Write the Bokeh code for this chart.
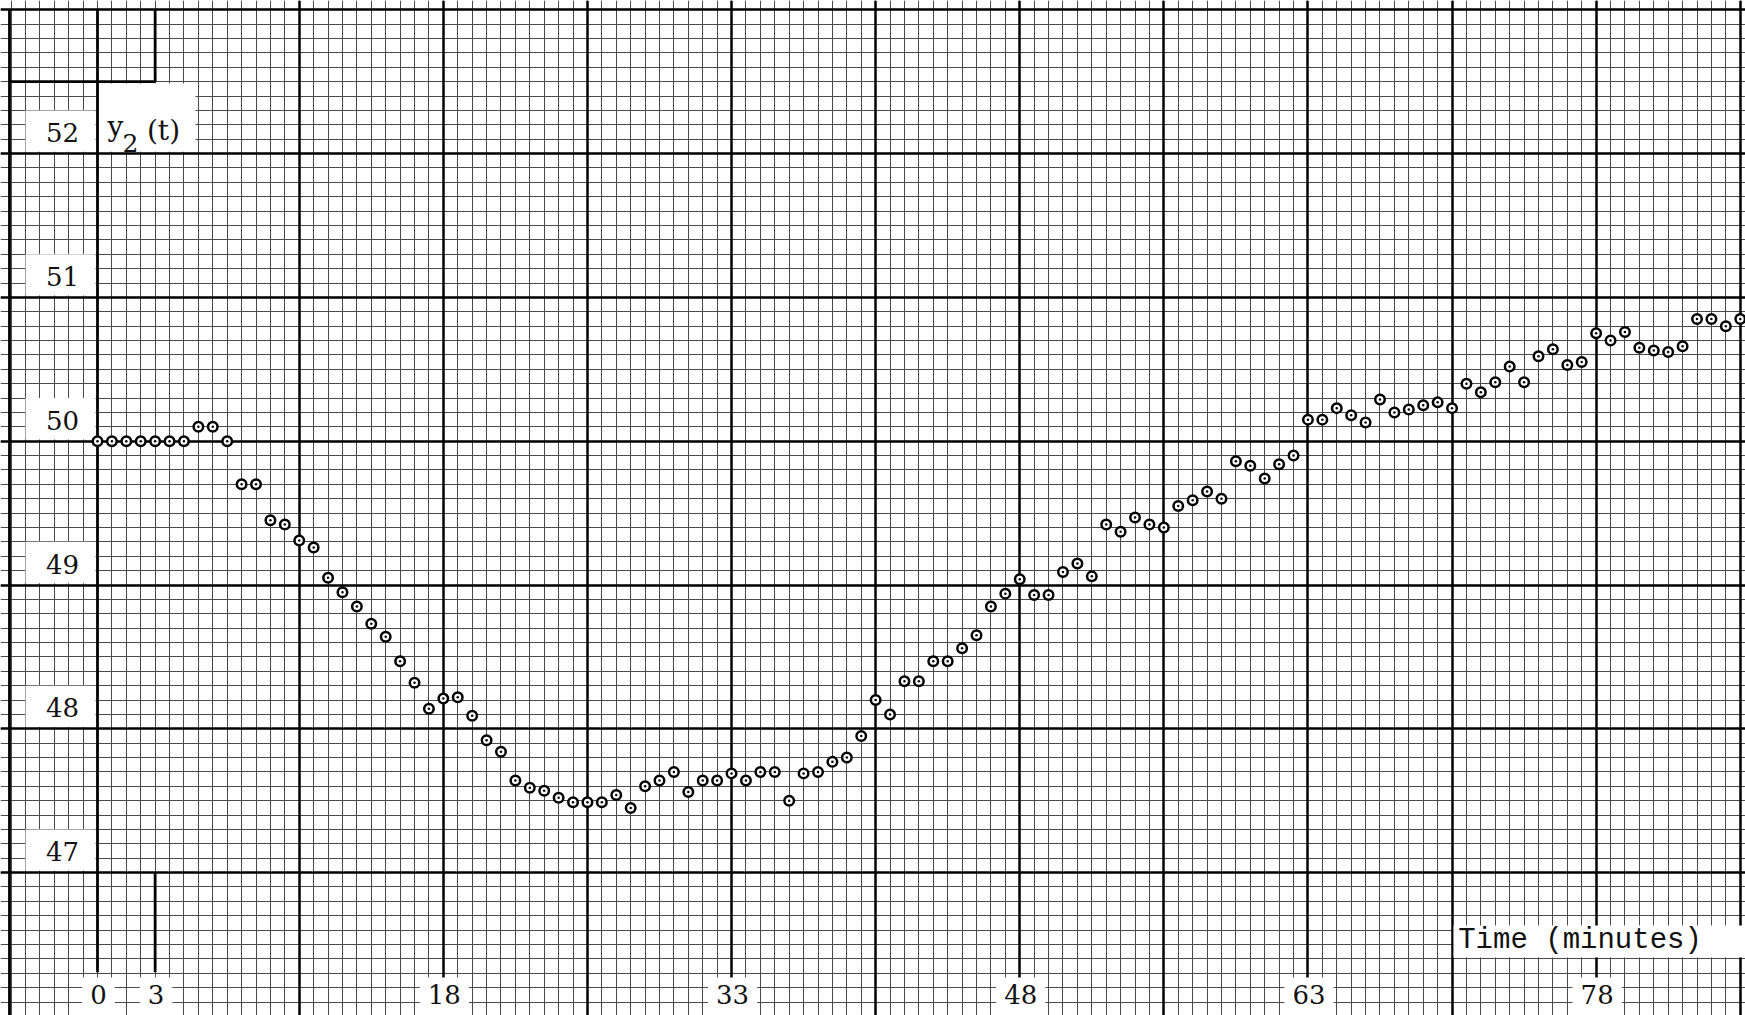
import numpy as np
from bokeh.plotting import figure
from bokeh.models import Range1d, Grid, FixedTicker
from bokeh.core.properties import value
from bokeh.embed import file_html
from bokeh.resources import INLINE

# ---------------- data ----------------
time_min = [
    0, 0.75, 1.5, 2.25, 3, 3.75, 4.5, 5.25, 6, 6.75,
    7.5, 8.25, 9, 9.75, 10.5, 11.25, 12, 12.75, 13.5, 14.25,
    15, 15.75, 16.5, 17.25, 18, 18.75, 19.5, 20.25, 21, 21.75,
    22.5, 23.25, 24, 24.75, 25.5, 26.25, 27, 27.75, 28.5, 29.25,
    30, 30.75, 31.5, 32.25, 33, 33.75, 34.5, 35.25, 36, 36.75,
    37.5, 38.25, 39, 39.75, 40.5, 41.25, 42, 42.75, 43.5, 44.25,
    45, 45.75, 46.5, 47.25, 48, 48.75, 49.5, 50.25, 51, 51.75,
    52.5, 53.25, 54, 54.75, 55.5, 56.25, 57, 57.75, 58.5, 59.25,
    60, 60.75, 61.5, 62.25, 63, 63.75, 64.5, 65.25, 66, 66.75,
    67.5, 68.25, 69, 69.75, 70.5, 71.25, 72, 72.75, 73.5, 74.25,
    75, 75.75, 76.5, 77.25, 78, 78.75, 79.5, 80.25, 81, 81.75,
    82.5, 83.25, 84, 84.75, 85.5,
]
y2_values = [
    50.00, 50.00, 50.00, 50.00, 50.00, 50.00, 50.00, 50.10, 50.10, 50.00,
    49.70, 49.70, 49.45, 49.42, 49.31, 49.26, 49.05, 48.95, 48.85, 48.73,
    48.64, 48.47, 48.32, 48.14, 48.21, 48.22, 48.09, 47.92, 47.84, 47.64,
    47.59, 47.57, 47.52, 47.49, 47.49, 47.49, 47.54, 47.45, 47.60, 47.64,
    47.70, 47.56, 47.64, 47.64, 47.69, 47.64, 47.70, 47.70, 47.50, 47.69,
    47.70, 47.77, 47.80, 47.95, 48.20, 48.10, 48.33, 48.33, 48.47, 48.47,
    48.56, 48.65, 48.85, 48.94, 49.04, 48.93, 48.93, 49.09, 49.15, 49.06,
    49.42, 49.37, 49.47, 49.42, 49.40, 49.55, 49.59, 49.65, 49.60, 49.86,
    49.83, 49.74, 49.84, 49.90, 50.15, 50.15, 50.23, 50.18, 50.13, 50.29,
    50.20, 50.22, 50.25, 50.27, 50.23, 50.40, 50.34, 50.41, 50.52, 50.41,
    50.59, 50.64, 50.53, 50.55, 50.75, 50.70, 50.76, 50.65, 50.63, 50.62,
    50.66, 50.85, 50.85, 50.80, 50.85,
]
x_tick_values = [0, 3, 18, 33, 48, 63, 78]
x_tick_labels = ["0", "3", "18", "33", "48", "63", "78"]
y_tick_values = [47, 48, 49, 50, 51, 52]
y_tick_labels = ["47", "48", "49", "50", "51", "52"]
x_title = "Time (minutes)"

# ---------------- geometry (canvas pixels) ----------------
W, H = 1745, 1015
X0_PX = 97.0                 # canvas x of t = 0
PX_PER_MIN = 14.41 / 0.75    # one small square = 0.75 min
Y50_PX = 440.7               # canvas y of value 50
PX_PER_UNIT = 143.8          # ten small squares per unit

def dx(px):
    return px / PX_PER_MIN

def dy(px):
    return px / PX_PER_UNIT

def vy(py):          # canvas y pixel -> value
    return 50 - (py - Y50_PX) / PX_PER_UNIT

x_start = -X0_PX / PX_PER_MIN
x_end = (W - X0_PX) / PX_PER_MIN
y_end = vy(0)
y_start = vy(H)

p = figure(width=W, height=H, output_backend="svg", toolbar_location=None,
           x_range=Range1d(x_start, x_end), y_range=Range1d(y_start, y_end),
           x_axis_location=None, y_axis_location=None, min_border=0,
           outline_line_color=None, background_fill_color="white",
           border_fill_color="white")
p.xgrid.visible = False
p.ygrid.visible = False

GRID_C = "#4a4a4a"
# minor graph-paper grid
minor_x = [round(k * 0.75, 4) for k in range(-6, 118)]
minor_y = [round(46.0 + k * 0.1, 4) for k in range(0, 71)]
p.add_layout(Grid(dimension=0, ticker=FixedTicker(ticks=minor_x),
                  grid_line_color=GRID_C, grid_line_width=1))
p.add_layout(Grid(dimension=1, ticker=FixedTicker(ticks=minor_y),
                  grid_line_color=GRID_C, grid_line_width=1))
# major graph-paper grid
major_x = [round(3 + 7.5 * k, 4) for k in range(1, 12)]
major_y = [47, 48, 49, 50, 51, 52, 53]
p.add_layout(Grid(dimension=0, ticker=FixedTicker(ticks=major_x),
                  grid_line_color="black", grid_line_width=2.5))
p.add_layout(Grid(dimension=1, ticker=FixedTicker(ticks=major_y),
                  grid_line_color="black", grid_line_width=2.5))

# axis line at t=0, paper border and partial heavy lines
y_low_axis = vy(971.7)
x_border = x_start + dx(9)
p.segment(x0=[0, 3, 3, x_border, x_border],
          y0=[53, 53, 47, 53, 52.5],
          x1=[0, 3, 3, x_border, 3],
          y1=[y_low_axis, 52.5, y_low_axis, y_start, 52.5],
          line_color="black", line_width=2.8)

SERIF = value("DejaVu Serif")
INK = "#111111"

# y tick label boxes + labels
n_y = len(y_tick_values)
p.quad(left=[x_start + dx(25)] * n_y, right=[-dx(2)] * n_y,
       bottom=[v + dy(1.8) for v in y_tick_values],
       top=[v + 0.3 for v in y_tick_values],
       fill_color="white", line_color=None)
p.text(x=[-dx(35)] * n_y, y=[v + dy(21) for v in y_tick_values],
       text=y_tick_labels, text_font=SERIF, text_font_size="26px",
       text_align="center", text_baseline="middle", text_color=INK)

# x tick label boxes + labels
half_w = [dx(len(s) * 8.3 + 8) for s in x_tick_labels]
p.quad(left=[t - h + dx(1) for t, h in zip(x_tick_values, half_w)],
       right=[t + h + dx(1) for t, h in zip(x_tick_values, half_w)],
       bottom=[y_start] * len(x_tick_values),
       top=[vy(977)] * len(x_tick_values),
       fill_color="white", line_color=None)
p.text(x=[t + dx(1) for t in x_tick_values], y=[vy(994)] * len(x_tick_values),
       text=x_tick_labels, text_font=SERIF, text_font_size="26px",
       text_align="center", text_baseline="middle", text_color=INK)

# y-axis title box  y2(t)
p.quad(left=[dx(1.5)], right=[dx(98)], bottom=[52 + dy(1.8)], top=[52.5 - dy(1.8)],
       fill_color="white", line_color=None)
p.text(x=[dx(18)], y=[vy(126)], text=["y"], text_font=SERIF,
       text_font_size="28px", text_align="center", text_baseline="alphabetic",
       text_color=INK)
p.text(x=[dx(33)], y=[vy(142)], text=["2"], text_font=SERIF,
       text_font_size="25px", text_align="center", text_baseline="alphabetic",
       text_color=INK)
p.text(x=[dx(66)], y=[vy(130)], text=["(t)"], text_font=SERIF,
       text_font_size="28px", text_align="center", text_baseline="alphabetic",
       text_color=INK)

# x-axis title box
p.quad(left=[70.5 + dx(1.5)], right=[x_end], bottom=[vy(957)], top=[vy(925)],
       fill_color="white", line_color=None)
p.text(x=[70.5 + dx(128)], y=[vy(940)], text=[x_title],
       text_font=value("Liberation Mono"), text_font_size="29px",
       text_align="center", text_baseline="middle", text_color=INK)

# data points
p.scatter(x=time_min, y=y2_values, marker="circle", size=9.5,
          fill_color="white", line_color="black", line_width=2.5)
p.scatter(x=time_min, y=y2_values, marker="circle", size=2.5,
          fill_color="black", line_color=None)

open("out.html", "w").write(file_html(p, INLINE))
